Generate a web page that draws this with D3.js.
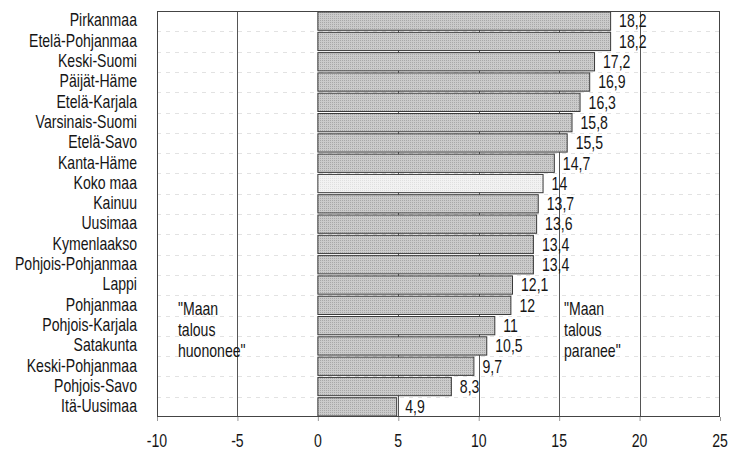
<!DOCTYPE html>
<html><head><meta charset="utf-8">
<script src="https://cdn.jsdelivr.net/npm/d3@7"></script>
<style>
body{margin:0;background:#fff;}
text{font-family:"Liberation Sans",Arial,sans-serif;fill:#151515;}
</style></head><body>
<svg id="c" width="729" height="450"></svg>
<script>
const categories = ["Pirkanmaa","Etelä-Pohjanmaa","Keski-Suomi","Päijät-Häme","Etelä-Karjala","Varsinais-Suomi","Etelä-Savo","Kanta-Häme","Koko maa","Kainuu","Uusimaa","Kymenlaakso","Pohjois-Pohjanmaa","Lappi","Pohjanmaa","Pohjois-Karjala","Satakunta","Keski-Pohjanmaa","Pohjois-Savo","Itä-Uusimaa"];
const values = [18.2,18.2,17.2,16.9,16.3,15.8,15.5,14.7,14,13.7,13.6,13.4,13.4,12.1,12,11,10.5,9.7,8.3,4.9];
const xTicks = [-10,-5,0,5,10,15,20,25];
const highlight = "Koko maa";
const noteLeft = ["\"Maan","talous","huononee\""];
const noteRight = ["\"Maan","talous","paranee\""];

const svg = d3.select("#c");
const L=157, R=720, T=11, B=417;
const FS=17.5, SX=0.805;
const x = d3.scaleLinear().domain([-10,25]).range([L,R]);
const y = d3.scaleBand().domain(categories).range([T,B]).paddingInner(0.1).paddingOuter(0.05);

function ntext(g, px, py, str, anchor){
  return g.append("text")
    .attr("transform",`translate(${px},${py}) scale(${SX},1)`)
    .attr("text-anchor",anchor||"start")
    .attr("font-size",FS).text(str);
}

const defs = svg.append("defs");
const pat = defs.append("pattern").attr("id","stip").attr("width",2).attr("height",2).attr("patternUnits","userSpaceOnUse");
pat.append("rect").attr("width",2).attr("height",2).attr("fill","#cbcbcb");
pat.append("rect").attr("width",1).attr("height",1).attr("fill","#a8a8a8");
const pat2 = defs.append("pattern").attr("id","stip2").attr("width",2).attr("height",2).attr("patternUnits","userSpaceOnUse");
pat2.append("rect").attr("width",2).attr("height",2).attr("fill","#f2f2f2");
pat2.append("rect").attr("width",1).attr("height",1).attr("fill","#dfdfdf");

// horizontal faint gridlines at band boundaries
const step = y.step();
svg.append("g").selectAll("line").data(categories.slice(1)).join("line")
  .attr("x1",L).attr("x2",R)
  .attr("y1",d=>Math.round(y(d)-step*y.paddingInner()/2)+0.5).attr("y2",d=>Math.round(y(d)-step*y.paddingInner()/2)+0.5)
  .attr("stroke","#e2e2e2").attr("stroke-width",1).attr("stroke-dasharray","4,5");

// vertical gridlines
svg.append("g").selectAll("line").data(xTicks.filter(t=>t>-10&&t<25&&t!==0)).join("line")
  .attr("x1",d=>Math.round(x(d))+0.5).attr("x2",d=>Math.round(x(d))+0.5)
  .attr("y1",T).attr("y2",B).attr("stroke","#555").attr("stroke-width",1);

// bars
svg.append("g").selectAll("rect").data(categories).join("rect")
  .attr("x",x(0)).attr("y",d=>y(d))
  .attr("width",(d,i)=>x(values[i])-x(0)).attr("height",y.bandwidth())
  .attr("fill",d=>d===highlight?"url(#stip2)":"url(#stip)")
  .attr("stroke","#3a3a3a").attr("stroke-width",1);

// frame
svg.append("rect").attr("x",L+0.5).attr("y",T+0.5).attr("width",R-L-1).attr("height",B-T-1)
  .attr("fill","none").attr("stroke","#444").attr("stroke-width",1);

// value labels
const vg = svg.append("g");
categories.forEach((c,i)=>ntext(vg, x(values[i])+8.5, y(c)+y.bandwidth()/2+6.3, String(values[i]).replace(".",",")));

// category labels
const cg = svg.append("g");
categories.forEach(c=>ntext(cg, L-20, y(c)+y.bandwidth()/2+5.3, c, "end"));

// x axis ticks
const xa = svg.append("g").attr("transform",`translate(0,${B})`).call(d3.axisBottom(x).tickValues(xTicks).tickSize(4).tickFormat(()=>""));
xa.select(".domain").remove();
xa.selectAll("line").attr("stroke","#999");
const xg = svg.append("g");
xTicks.forEach(t=>ntext(xg, x(t), 447, String(t), "middle"));

// notes
const ng = svg.append("g");
noteLeft.forEach((s,i)=>ntext(ng, x(-8.7), 315+i*21, s));
noteRight.forEach((s,i)=>ntext(ng, x(15.3), 315+i*21, s));
</script></body></html>
